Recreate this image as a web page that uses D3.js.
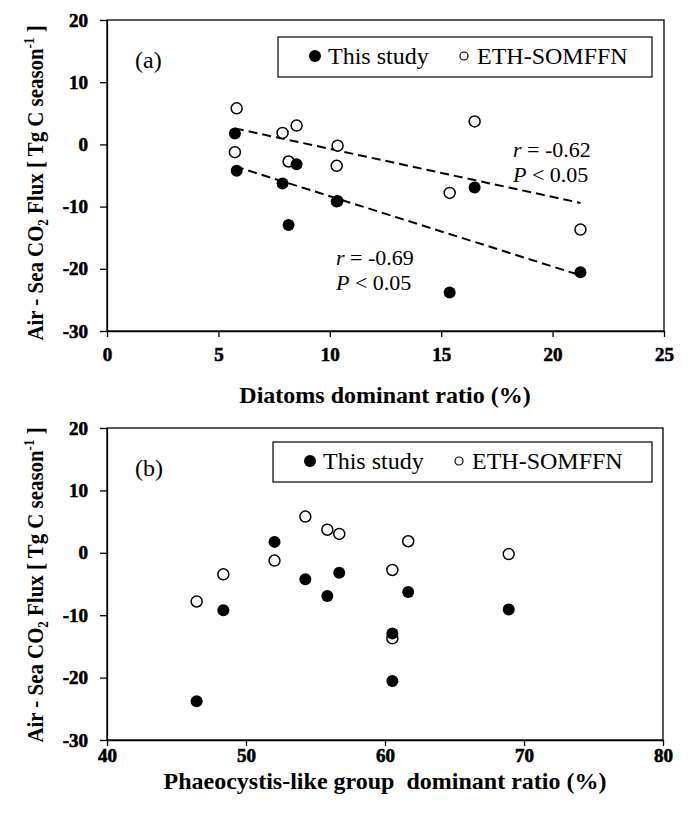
<!DOCTYPE html>
<html lang="en">
  <head>
    <meta charset="UTF-8" />
    <title>CO2 flux vs dominant ratio</title>
    <script src="https://cdn.jsdelivr.net/npm/d3@7"></script>
    <style>
      body { margin: 0; background: #fff; }
      text { font-family: 'Liberation Serif', 'Times New Roman', serif; fill: #000; }
    </style>
  </head>
  <body>
    <svg width="688" height="815"></svg>
  </body>

  <script>
    // one value per season
    var diatomRatio = [5.74, 5.82, 7.88, 8.51, 8.15, 10.35, 10.31, 16.5, 15.38, 21.25];
    var phaeoRatio = [52.05, 54.27, 61.67, 56.71, 60.53, 68.9, 48.37, 55.85, 46.45, 60.53];
    var fluxStudy = [1.75, -4.25, -6.3, -3.2, -12.95, -9.1, -9.2, -6.92, -23.8, -20.55];
    var fluxEth = [-1.25, 5.8, 1.85, 3.02, -2.75, -0.2, -3.45, 3.7, -7.8, -13.7];
    var yTicks = [-30, -20, -10, 0, 10, 20];
    var xTicksA = [0, 5, 10, 15, 20, 25];
    var xTicksB = [40, 50, 60, 70, 80];
    var legendNames = ['This study', 'ETH-SOMFFN'];

    var svg = d3.select('svg');

    // least squares line over the x range of the data
    function fitLine(xs, ys) {
      var mx = d3.mean(xs), my = d3.mean(ys);
      var sxy = d3.sum(xs, function (x, i) { return (x - mx) * (ys[i] - my); });
      var sxx = d3.sum(xs, function (x) { return (x - mx) * (x - mx); });
      var b = sxy / sxx, a = my - b * mx;
      var ext = d3.extent(xs);
      return ext.map(function (x) { return [x, a + b * x]; });
    }

    function drawPanel(p) {
      var x = d3.scaleLinear().domain(p.xDomain).range([p.left, p.right]);
      var y = d3.scaleLinear().domain([-30, 20]).range([p.bottom, p.top]);
      var g = svg.append('g');
      var fmt = function (d) { return String(d); }; // plain hyphen minus

      // frame
      g.append('rect')
        .attr('x', p.left).attr('y', p.top)
        .attr('width', p.right - p.left).attr('height', p.bottom - p.top)
        .attr('fill', 'none').attr('stroke', '#000').attr('stroke-width', 1.3);

      var ax = g.append('g')
        .attr('transform', 'translate(0,' + p.bottom + ')')
        .call(d3.axisBottom(x).tickValues(p.xTicks).tickFormat(fmt)
          .tickSize(6).tickSizeOuter(0).tickPadding(p.xPad));
      var ay = g.append('g')
        .attr('transform', 'translate(' + p.left + ',0)')
        .call(d3.axisLeft(y).tickValues(yTicks).tickFormat(fmt)
          .tickSize(7).tickSizeOuter(0).tickPadding(12));
      [ax, ay].forEach(function (a) {
        a.attr('font-family', 'Liberation Serif').attr('font-size', 19).attr('font-weight', 'bold');
        a.select('.domain').attr('stroke-width', 1.3);
        a.selectAll('line').attr('stroke-width', 1.3);
        a.selectAll('.tick text')
          .style('font-family', 'Liberation Serif')
          .style('font-size', '19px').style('font-weight', 'bold')
          .attr('fill', '#000').attr('stroke', '#000').attr('stroke-width', 0.6);
      });

      // axis titles
      g.append('text')
        .attr('x', 385).attr('y', p.xTitleY)
        .attr('text-anchor', 'middle')
        .style('font-size', p.xTitleSize).style('font-weight', 'bold').style('white-space', 'pre')
        .text(p.xTitle);

      var yt = g.append('text')
        .attr('transform', 'translate(43,' + p.yTitleC + ') rotate(-90) scale(0.87,1)')
        .attr('text-anchor', 'middle')
        .style('font-size', '24px').style('font-weight', 'bold');
      yt.append('tspan').text('Air - Sea CO');
      yt.append('tspan').attr('dy', 5).style('font-size', '15px').text('2');
      yt.append('tspan').attr('dy', -5).text(' Flux [ Tg C season');
      yt.append('tspan').attr('dy', -9).style('font-size', '15px').text('-1');
      yt.append('tspan').attr('dy', 9).text(' ]');

      // trend lines
      if (p.fits) {
        var line = d3.line().x(function (d) { return x(d[0]); }).y(function (d) { return y(d[1]); });
        p.fits.forEach(function (f) {
          g.append('path').attr('d', line(f))
            .attr('fill', 'none').attr('stroke', '#000')
            .attr('stroke-width', 2).attr('stroke-dasharray', '9,5');
        });
      }

      // points: open first so filled ones sit on top
      g.selectAll('.eth').data(p.xs).enter().append('circle')
        .attr('cx', function (d) { return x(d); })
        .attr('cy', function (d, i) { return y(fluxEth[i]); })
        .attr('r', 5.5).attr('fill', '#fff').attr('stroke', '#000').attr('stroke-width', 1.5);
      g.selectAll('.study').data(p.xs).enter().append('circle')
        .attr('cx', function (d) { return x(d); })
        .attr('cy', function (d, i) { return y(fluxStudy[i]); })
        .attr('r', 6).attr('fill', '#000');

      // legend
      var lg = g.append('g');
      lg.append('rect')
        .attr('x', p.legX).attr('y', p.legY)
        .attr('width', 652 - p.legX).attr('height', 40)
        .attr('fill', '#fff').attr('stroke', '#000').attr('stroke-width', 1.2);
      lg.append('circle').attr('cx', p.legX + 37).attr('cy', p.legY + 19).attr('r', 6).attr('fill', '#000');
      lg.append('text').attr('x', p.legX + 50).attr('y', p.legY + 27)
        .style('font-size', '24px').text(legendNames[0]);
      lg.append('circle').attr('cx', p.legX + 186).attr('cy', p.legY + 19).attr('r', 4)
        .attr('fill', '#fff').attr('stroke', '#000').attr('stroke-width', 1.2);
      lg.append('text').attr('x', p.legX + 199).attr('y', p.legY + 27)
        .style('font-size', '24px').text(legendNames[1]);

      g.append('text').attr('x', p.left + 28).attr('y', p.top + 48)
        .style('font-size', '24px').text(p.tag);

      return { x: x, y: y, g: g };
    }

    // (a) diatoms
    var pa = drawPanel({
      xDomain: [0, 25], xTicks: xTicksA, xs: diatomRatio,
      left: 107, right: 664, top: 20, bottom: 331, xPad: 11,
      xTitle: 'Diatoms dominant ratio (%)', xTitleY: 403, xTitleSize: '24px', yTitleC: 183,
      legX: 278, legY: 37, tag: '(a)',
      fits: [fitLine(diatomRatio, fluxEth), fitLine(diatomRatio, fluxStudy)]
    });

    // r / P labels
    function stat(g, xp, yp, r) {
      var t1 = g.append('text').attr('x', xp).attr('y', yp).style('font-size', '22px');
      t1.append('tspan').style('font-style', 'italic').text('r');
      t1.append('tspan').text(' = ' + r);
      var t2 = g.append('text').attr('x', xp).attr('y', yp + 25).style('font-size', '22px');
      t2.append('tspan').style('font-style', 'italic').text('P');
      t2.append('tspan').text(' < 0.05');
    }
    stat(pa.g, 513, 157, '-0.62');
    stat(pa.g, 336, 265, '-0.69');

    // (b) phaeocystis
    drawPanel({
      xDomain: [40, 80], xTicks: xTicksB, xs: phaeoRatio,
      left: 107, right: 663, top: 428, bottom: 740, xPad: 3,
      xTitle: 'Phaeocystis-like group  dominant ratio (%)', xTitleY: 789, xTitleSize: '24px', yTitleC: 585,
      legX: 273, legY: 442, tag: '(b)'
    });
  </script>
</html>
